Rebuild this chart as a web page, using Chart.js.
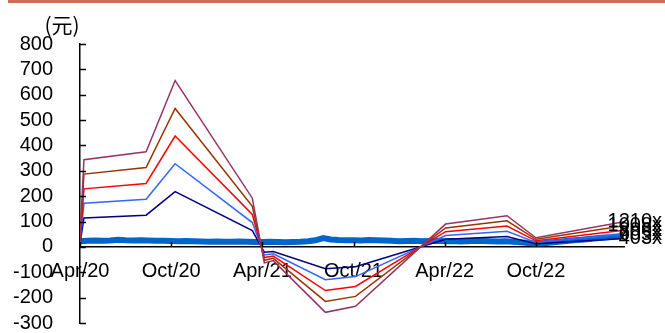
<!DOCTYPE html>
<html>
<head>
<meta charset="utf-8">
<script src="https://cdn.jsdelivr.net/npm/chart.js@4.4.0/dist/chart.umd.min.js"></script>
<style>
  html, body { margin: 0; padding: 0; background: #fff; }
  #wrap { position: relative; width: 665px; height: 333px; }
  #topbar { position: absolute; left: 8px; top: 0; width: 657px; height: 3px; background: #c87052; }
  canvas { display: block; }
</style>
</head>
<body>
<div id="wrap">
  <div id="topbar"></div>
  <canvas id="chart" width="665" height="333"></canvas>
</div>
<script>
// months counted from Apr 2020
const xTickLabels = ['Apr/20', 'Oct/20', 'Apr/21', 'Oct/21', 'Apr/22', 'Oct/22'];
const xMax = 35.8;
const yMin = -300;
const yMax = 800;

// PE band lines (knots where EPS changes)
const bandMonths = [0, 0.26, 4.35, 6.26, 11.34, 12.13, 12.72, 16.15, 18.13, 24.06, 28.1, 30.0, 35.8];
const band403 = [12, 114, 125, 218, 64, -21, -18, -86, -78, 30, 41, 12, 33];
const band605 = [18, 172, 188, 328, 96, -32, -27, -129, -117, 45, 62, 18, 50];
const band806 = [24, 229, 250, 437, 128, -42, -36, -172, -156, 60, 82, 24, 66];
const band1008 = [30, 287, 313, 546, 160, -53, -45, -215, -195, 75, 103, 30, 83];
const band1210 = [36, 344, 375, 656, 192, -63, -54, -258, -234, 90, 123, 36, 99];

// share price
const priceMonths = [0, 0.5, 1, 1.5, 2, 2.5, 3, 3.5, 4, 4.5, 5, 5.5, 6, 6.5, 7, 7.5, 8, 8.5, 9, 9.5,
  10, 10.5, 11, 11.5, 12, 12.5, 13, 13.5, 14, 14.5, 15, 15.5, 16, 16.5, 17, 17.5, 18, 18.5, 19, 19.5,
  20, 20.5, 21, 21.5, 22, 22.5, 23, 23.5, 24, 24.5, 25, 25.5, 26, 26.5, 27, 27.5, 28, 28.5, 29, 29.5,
  30, 30.5, 31, 31.5, 32, 32.5, 33, 33.5, 34, 34.5, 35, 35.5, 35.8];
const priceValues = [22, 24, 25, 24, 25, 28, 26, 25, 26, 25, 24, 24, 23, 22, 23, 22, 21, 20, 21, 20,
  20, 21, 20, 19, 19, 20, 19, 18, 19, 20, 22, 26, 35, 29, 27, 26, 26, 25, 27, 26,
  25, 24, 22, 23, 24, 22, 23, 24, 22, 23, 21, 22, 24, 23, 22, 21, 22, 20, 18, 15,
  13, 14, 17, 20, 23, 26, 28, 31, 34, 37, 39, 42, 44];

const toPoints = (xs, ys) => xs.map((x, i) => ({x: x, y: ys[i]}));

const bands = [
  {label: '1210x', data: band1210, color: '#993366'},
  {label: '1008x', data: band1008, color: '#993300'},
  {label: '806x', data: band806, color: '#ff0000'},
  {label: '605x', data: band605, color: '#3366ff'},
  {label: '403x', data: band403, color: '#000080'}
];

const datasets = bands.map(b => ({
  label: b.label,
  data: toPoints(bandMonths, b.data),
  borderColor: b.color,
  borderWidth: 1.5,
  pointRadius: 0,
  tension: 0,
  fill: false
}));
datasets.push({
  label: 'price',
  data: toPoints(priceMonths, priceValues),
  borderColor: '#0066cc',
  borderWidth: 6,
  pointRadius: 0,
  tension: 0,
  fill: false
});

const FONT = 'Liberation Sans, Arial, sans-serif';

const marks = {
  id: 'marks',
  afterDatasetsDraw(chart) {
    const ctx = chart.ctx;
    ctx.save();
    ctx.fillStyle = '#000';
    ctx.font = '20px ' + FONT;
    ctx.textAlign = 'right';
    ctx.textBaseline = 'middle';
    bands.forEach((b, i) => {
      const pts = chart.getDatasetMeta(i).data;
      const last = pts[pts.length - 1];
      ctx.fillText(b.label, chart.width - 3, last.y);
    });
    ctx.restore();
  },
  afterDraw(chart) {
    const {ctx, scales: {x, y}} = chart;
    ctx.save();
    ctx.strokeStyle = '#000';
    ctx.lineWidth = 1.5;
    const ax = y.right;
    y.ticks.forEach(t => {
      const py = Math.round(y.getPixelForValue(t.value)) + 0.5;
      ctx.beginPath();
      ctx.moveTo(ax, py);
      ctx.lineTo(ax + 6, py);
      ctx.stroke();
    });
    const y0 = y.getPixelForValue(0);
    x.ticks.forEach(t => {
      const px = Math.round(x.getPixelForValue(t.value)) + 0.5;
      ctx.beginPath();
      ctx.moveTo(px, y0);
      ctx.lineTo(px, y0 - 5);
      ctx.stroke();
    });
    ctx.fillStyle = '#000';
    ctx.font = '21px "Noto Sans CJK SC"';
    ctx.textAlign = 'center';
    ctx.textBaseline = 'middle';
    ctx.fillText('(元)', chart.chartArea.left - 18, chart.chartArea.top - 19);
    ctx.restore();
  }
};

new Chart(document.getElementById('chart'), {
  type: 'line',
  data: {datasets: datasets},
  options: {
    responsive: false,
    animation: false,
    devicePixelRatio: 1,
    layout: {padding: {left: 0, top: 44, right: 41, bottom: 10}},
    plugins: {legend: {display: false}, tooltip: {enabled: false}},
    scales: {
      x: {
        type: 'linear',
        position: {y: 0},
        min: 0,
        max: xMax,
        grid: {display: false, drawTicks: false},
        border: {display: true, color: '#000', width: 1.5},
        ticks: {
          stepSize: 6,
          includeBounds: false,
          autoSkip: false,
          maxRotation: 0,
          padding: 13,
          color: '#000',
          font: {family: FONT, size: 20},
          callback: v => xTickLabels[Math.round(v / 6)] || ''
        }
      },
      y: {
        min: yMin,
        max: yMax,
        afterFit: s => {
          s.width = 80;
          s.paddingTop = 10;
          s.paddingBottom = 10;
        },
        grid: {display: false, drawTicks: false},
        border: {display: true, color: '#000', width: 1.5},
        ticks: {
          stepSize: 100,
          autoSkip: false,
          padding: 27,
          color: '#000',
          font: {family: FONT, size: 20}
        }
      }
    }
  },
  plugins: [marks]
});
</script>
</body>
</html>
